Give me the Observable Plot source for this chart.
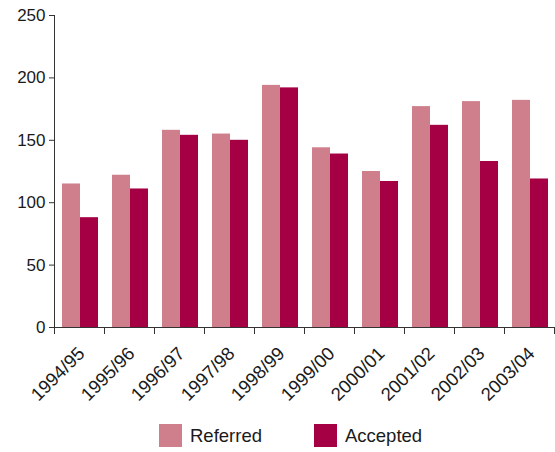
<!DOCTYPE html>
<html>
<head>
<meta charset="utf-8">
<script src="https://cdn.jsdelivr.net/npm/d3@7"></script>
<script src="https://cdn.jsdelivr.net/npm/@observablehq/plot@0.6"></script>
<style>
  html, body { margin: 0; padding: 0; background: #fff; }
  #chart svg { display: block; }
  .lg-swatch { margin-right: 52px !important; }
  .lg-swatch > svg { margin-right: 8px !important; }
</style>
</head>
<body>
<div id="chart"></div>
<script>
// Financial years and the number of cases referred and accepted in each
const years = ["1994/95", "1995/96", "1996/97", "1997/98", "1998/99",
               "1999/00", "2000/01", "2001/02", "2002/03", "2003/04"];
const referred = [115, 122, 158, 155, 194, 144, 125, 177, 181, 182];
const accepted = [88, 111, 154, 150, 192, 139, 117, 162, 133, 119];
const series = ["Referred", "Accepted"];
const colors = ["#ce7f8b", "#a50044"];
const yTicks = [0, 50, 100, 150, 200, 250];

const rows = years.flatMap((year, i) => [
  {year, series: series[0], value: referred[i]},
  {year, series: series[1], value: accepted[i]}
]);

const W = 555, H = 412;
const mL = 54, mR = 1, mT = 15, mB = 85;
const band = (W - mL - mR) / years.length;   // one band per year
const half = band / 2;
const font = "Liberation Sans, Arial, sans-serif";
const ink = "#1a1a1a";

const chart = Plot.plot({
  width: W,
  height: H,
  marginLeft: mL,
  marginRight: mR,
  marginTop: mT,
  marginBottom: mB,
  style: {fontFamily: font, fontSize: "17px", color: ink, background: "#fff"},
  x: {domain: years, padding: 0, axis: null},
  y: {domain: [0, 250], axis: null},
  color: {domain: series, range: colors},
  marks: [
    // paired bars: referred on the left half, accepted on the right half of each year
    Plot.barY(rows.filter(d => d.series === series[0]), {
      x: "year", y: "value", fill: "series",
      insetLeft: band * 0.16, insetRight: band * 0.48
    }),
    Plot.barY(rows.filter(d => d.series === series[1]), {
      x: "year", y: "value", fill: "series",
      insetLeft: band * 0.52, insetRight: band * 0.12
    }),
    // y axis with its vertical line
    Plot.ruleX([years[0]], {dx: -half, stroke: "#333"}),
    Plot.axisY({ticks: yTicks, tickSize: 5, tickPadding: 4, stroke: "#333",
                fontSize: 17, fill: ink, label: null}),
    // baseline and tick marks on the year boundaries
    Plot.ruleY([0], {stroke: "#333"}),
    Plot.axisX({ticks: years, tickSize: 7, dx: -half, tickFormat: () => "",
                stroke: "#333", label: null}),
    Plot.axisX({ticks: [years[years.length - 1]], tickSize: 7, dx: half,
                tickFormat: () => "", stroke: "#333", label: null}),
    // rotated year labels
    Plot.axisX({ticks: years, tickSize: 0, tickPadding: 23, tickRotate: -45,
                dx: 2, fontSize: 18.5, fill: ink, label: null})
  ]
});

const legend = Plot.legend({
  color: {domain: series, range: colors},
  legend: "swatches",
  swatchSize: 23,
  marginLeft: 159,
  className: "lg",
  style: {fontFamily: font, fontSize: "18.5px", color: ink, marginTop: "7px"}
});

const root = document.getElementById("chart");
root.appendChild(chart);
root.appendChild(legend);
</script>
</body>
</html>
